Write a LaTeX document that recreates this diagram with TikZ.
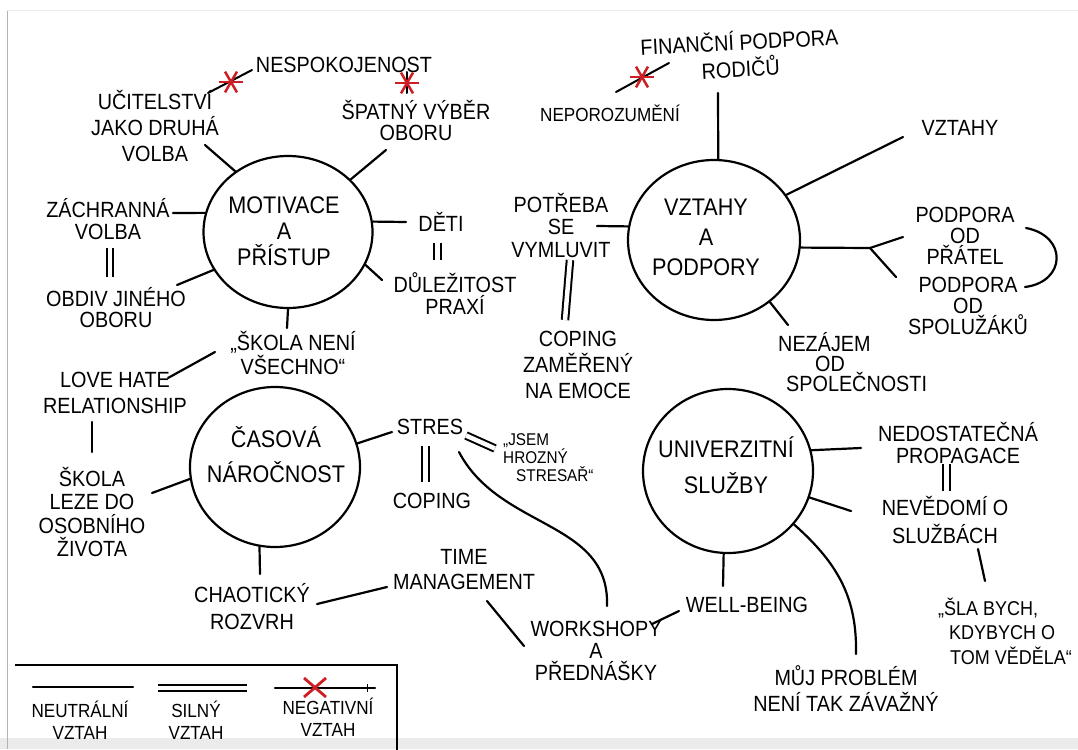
\documentclass[tikz,border=0pt]{standalone}
\usepackage{fontspec}
\setmainfont[FakeStretch=0.9]{Liberation Sans}
\usetikzlibrary{shapes.geometric}
\definecolor{negred}{RGB}{205,30,35}
\tikzset{
  lbl/.style={inner sep=0pt, align=center, font=\fontsize{22}{#1}\selectfont},
  lbl/.default=24,
  ctxt/.style={inner sep=0pt, align=center, font=\fontsize{24}{#1}\selectfont},
  ctxt/.default=26,
  small/.style={inner sep=0pt, font=\fontsize{17}{18}\selectfont},
  leg/.style={inner sep=0pt, align=center, font=\fontsize{19}{22}\selectfont},
  circ/.style={draw, ellipse, line width=2.2pt, inner sep=0pt},
  ln/.style={line width=2.2pt, line cap=round},
  strong/.style={line width=2pt, double, double distance=4.5pt},
  negln/.style={line width=2pt, line cap=round},
}
\newcommand\redstar[1]{\foreach \a in {0,60,120}{\draw[negred, line width=2.5pt, shift={#1}] (\a:12) -- (\a+180:12);}}
\begin{document}
\begin{tikzpicture}[x=1pt,y=-1pt]
\useasboundingbox (0,0) rectangle (1078,749);
\fill[white] (0,0) rectangle (1078,749);
\fill[black!8] (0,738) rectangle (1078,749);
\draw[black!30, line width=1pt] (7,10) -- (7,749);
\draw[black!8, line width=0.8pt] (7,10) -- (1078,10);

% main circles
\node[circ, minimum width=169pt, minimum height=152pt] (mot) at (288,232) {};
\node[circ, minimum width=170pt, minimum height=160pt] (cas) at (275,467) {};
\node[circ, minimum width=172pt, minimum height=160pt] (vzt) at (714,240) {};
\node[circ, minimum width=170pt, minimum height=164pt] (uni) at (728,471) {};

\node[ctxt=26] (mot-t) at (284,231) {MOTIVACE\\A\\PŘÍSTUP};
\node[ctxt=35] (cas-t) at (276,455) {ČASOVÁ\\NÁROČNOST};
\node[ctxt=30] (vzt-t) at (706,237) {VZTAHY\\A\\PODPORY};
\node[ctxt=36] (uni-t) at (726,465) {UNIVERZITNÍ\\SLUŽBY};

% labels
\node[lbl] (nesp) at (344,65) {NESPOKOJENOST};
\node[lbl=26] (ucit) at (155,126) {UČITELSTVÍ\\JAKO DRUHÁ\\VOLBA};
\node[lbl=21] (spat) at (416,120) {ŠPATNÝ VÝBĚR\\OBORU};
\node[lbl=22] (zach) at (108,219) {ZÁCHRANNÁ\\VOLBA};
\node[lbl=21] (obdiv) at (116,308) {OBDIV JINÉHO\\OBORU};
\node[lbl] (deti) at (441,222) {DĚTI};
\node[lbl=22] (dulez) at (455,294) {DŮLEŽITOST\\PRAXÍ};
\node[lbl=21] (skola) at (293,353) {„ŠKOLA NENÍ\\VŠECHNO“};
\node[lbl=26] (love) at (115,393) {LOVE HATE\\RELATIONSHIP};
\node[lbl=23.5] (leze) at (92,512) {ŠKOLA\\LEZE DO\\OSOBNÍHO\\ŽIVOTA};
\node[lbl=27] (chaot) at (252,607) {CHAOTICKÝ\\ROZVRH};
\node[lbl] (stres) at (430,427) {STRES};
\node[lbl] (coping) at (432,501) {COPING};
\node[small, align=left, anchor=west] (jsem) at (503,458) {„JSEM\\HROZNÝ\\\hspace*{13pt}STRESAŘ“};
\node[lbl=25] (time) at (464,570) {TIME\\MANAGEMENT};
\node[lbl=22] (work) at (596,651) {WORKSHOPY\\A\\PŘEDNÁŠKY};
\node[lbl] (well) at (747,605) {WELL-BEING};
\node[lbl=26] (muj) at (846,689) {MŮJ PROBLÉM\\NENÍ TAK ZÁVAŽNÝ};
\node[lbl=22] (nedost) at (958,443) {NEDOSTATEČNÁ\\PROPAGACE};
\node[lbl=28] (neved) at (945,520) {NEVĚDOMÍ O\\SLUŽBÁCH};
\node[lbl=24.5, font=\fontsize{20}{24.5}\selectfont, align=left, anchor=west] (sla) at (938,631) {„ŠLA BYCH,\\\hspace*{11pt}KDYBYCH O\\\hspace*{12pt}TOM VĚDĚLA“};
\node[lbl=27, rotate=3] (finan) at (740,54) {FINANČNÍ PODPORA\\RODIČŮ};
\node[lbl, font=\fontsize{19}{22}\selectfont] (nepor) at (610,113) {NEPOROZUMĚNÍ};
\node[lbl] (vztl) at (960,128) {VZTAHY};
\node[lbl=22.5] (potr) at (561,225) {POTŘEBA\\SE\\VYMLUVIT};
\node[lbl=26] (copem) at (578,365) {COPING\\ZAMĚŘENÝ\\NA EMOCE};
\node[lbl=21] (pratel) at (965,236) {PODPORA\\OD\\PŘÁTEL};
\node[lbl=21] (spoluz) at (968,306) {PODPORA\\OD\\SPOLUŽÁKŮ};
\node[lbl=20, align=left, anchor=west] (nezaj) at (778,362) {NEZÁJEM\\\hspace*{37pt}OD\\\hspace*{8pt}SPOLEČNOSTI};

% connector ends
\coordinate (ucit-e) at (205,145);
\coordinate (spat-e) at (386,150);
\coordinate (zach-e) at (173,213);
\coordinate (deti-e) at (406,222);
\coordinate (dulez-e) at (382,280);
\coordinate (obdiv-e) at (177,285);
\coordinate (skola-e) at (287,328);
\coordinate (skola-w) at (215,352);
\coordinate (love-e) at (168,378);
\coordinate (love-s) at (92,422);
\coordinate (leze-n) at (92,452);
\coordinate (leze-e) at (152,493);
\coordinate (chaot-n) at (260,574);
\coordinate (chaot-e) at (317,604);
\coordinate (stres-w) at (392,432);
\coordinate (time-w) at (387,587);
\coordinate (time-s) at (487,601);
\coordinate (work-nw) at (524,646);
\coordinate (stres-se) at (459,452);
\coordinate (work-n) at (607,606);
\coordinate (work-e) at (652,624);
\coordinate (well-w) at (679,611);
\coordinate (well-n) at (723,586);
\coordinate (muj-n) at (856,654);
\coordinate (nedost-w) at (861,448);
\coordinate (neved-w) at (851,511);
\coordinate (neved-s) at (978,549);
\coordinate (sla-n) at (985,581);
\coordinate (finan-s) at (718,93);
\coordinate (vztl-w) at (903,137);
\coordinate (potr-e) at (597,226);
\coordinate (fork) at (870,248);
\coordinate (pratel-w) at (903,237);
\coordinate (spoluz-w) at (896,277);
\coordinate (pratel-e) at (1026,228);
\coordinate (spoluz-e) at (1025,287);
\coordinate (nezaj-n) at (788,325);

% neutral connectors
\draw[ln] (ucit-e) -- (mot.131);
\draw[ln] (spat-e) -- (mot.40);
\draw[ln] (zach-e) -- (mot.167);
\draw[ln] (deti-e) -- (mot.7);
\draw[ln] (dulez-e) -- (mot.-23);
\draw[ln] (obdiv-e) -- (mot.207);
\draw[ln] (skola-e) -- (mot.270);
\draw[ln] (skola-w) -- (love-e);
\draw[ln] (love-s) -- (leze-n);
\draw[ln] (leze-e) -- (cas.188);
\draw[ln] (chaot-n) -- (cas.259);
\draw[ln] (stres-w) -- (cas.16);
\draw[ln] (chaot-e) -- (time-w);
\draw[ln] (time-s) -- (work-nw);
\draw[ln] (stres-se) .. controls (500,530) and (610,520) .. (work-n);
\draw[ln] (work-e) -- (well-w);
\draw[ln] (well-n) -- (uni.-93);
\draw[ln] (uni.-39) .. controls (840,565) and (857,600) .. (muj-n);
\draw[ln] (nedost-w) -- (uni.14);
\draw[ln] (neved-w) -- (uni.-18);
\draw[ln] (neved-s) -- (sla-n);
\draw[ln] (finan-s) -- (vzt.87);
\draw[ln] (vztl-w) -- (vzt.32);
\draw[ln] (potr-e) -- (vzt.171);
\draw[ln] (vzt.-5) -- (fork);
\draw[ln] (fork) -- (pratel-w);
\draw[ln] (fork) -- (spoluz-w);
\draw[ln] (pratel-e) .. controls (1068,236) and (1066,282) .. (spoluz-e);
\draw[ln] (nezaj-n) -- (vzt.-48);

% strong connectors
\coordinate (zach-s) at (110,248); \coordinate (obdiv-n) at (110,277);
\draw[strong] (zach-s) -- (obdiv-n);
\coordinate (deti-s) at (437.5,243); \coordinate (dulez-n) at (437.5,260);
\draw[strong] (deti-s) -- (dulez-n);
\coordinate (potr-s) at (570,260); \coordinate (copem-n) at (565,320);
\draw[strong] (potr-s) -- (copem-n);
\coordinate (stres-s) at (425.5,446); \coordinate (coping-n) at (425.5,482);
\draw[strong] (stres-s) -- (coping-n);
\coordinate (stres-e) at (466,435.5); \coordinate (jsem-w) at (495,448.5);
\draw[strong] (stres-e) -- (jsem-w);
\coordinate (nedost-s) at (946.5,464); \coordinate (neved-n) at (946.5,491);
\draw[strong] (nedost-s) -- (neved-n);

% negative connectors
\coordinate (ucit-ne) at (208,93); \coordinate (nesp-w) at (252,70);
\draw[negln] (ucit-ne) -- (nesp-w);
\redstar{(231,82)}
\coordinate (nesp-s) at (407,72); \coordinate (spat-n) at (407,93);
\draw[negln] (nesp-s) -- (spat-n);
\redstar{(407,83)}
\coordinate (nepor-ne) at (616,92); \coordinate (finan-w) at (669,63);
\draw[negln] (nepor-ne) -- (finan-w);
\redstar{(642,77)}

% legend
\draw[line width=2pt] (15,665) -- (397,665) -- (397,752);
\coordinate (n1) at (33,687); \coordinate (n2) at (133,687);
\draw[ln] (n1) -- (n2);
\coordinate (s1) at (158,688); \coordinate (s2) at (247,688);
\draw[strong] (s1) -- (s2);
\coordinate (g1) at (275,688); \coordinate (g2) at (375,688);
\draw[ln] (g1) -- (g2);
\draw[line width=1pt] (367,684) -- (367,692);
\draw[negred, line width=2.8pt] (304,678) -- (326,697) (304,697) -- (326,678);
\node[leg] (l1) at (80,720) {NEUTRÁLNÍ\\VZTAH};
\node[leg] (l2) at (196,720) {SILNÝ\\VZTAH};
\node[leg] (l3) at (328,717) {NEGATIVNÍ\\VZTAH};
\end{tikzpicture}
\end{document}
